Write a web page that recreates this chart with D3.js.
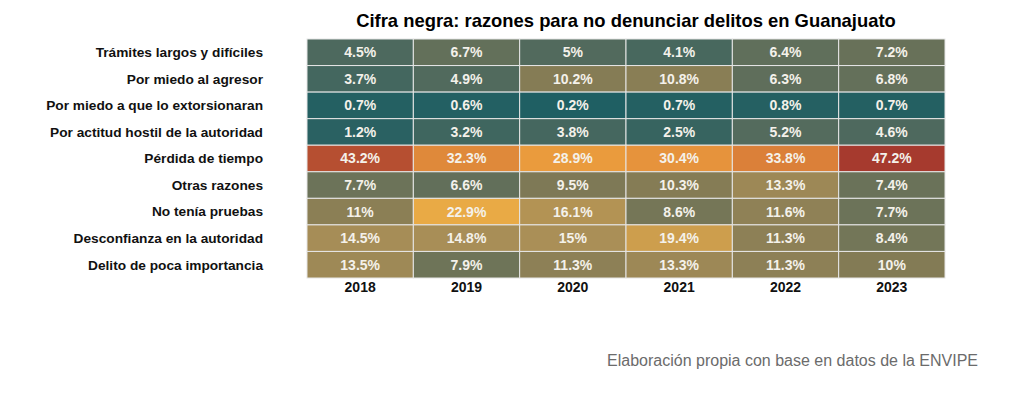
<!DOCTYPE html>
<html>
<head>
<meta charset="utf-8">
<script src="https://cdn.jsdelivr.net/npm/d3@7"></script>
<style>
  body { margin: 0; background: #fff; }
  text { font-family: "Liberation Sans", Arial, sans-serif; }
</style>
</head>
<body>
<div id="chart"></div>
<script>
// Data
const years = ["2018", "2019", "2020", "2021", "2022", "2023"];
const reasons = [
    "Trámites largos y difíciles",
    "Por miedo al agresor",
    "Por miedo a que lo extorsionaran",
    "Por actitud hostil de la autoridad",
    "Pérdida de tiempo",
    "Otras razones",
    "No tenía pruebas",
    "Desconfianza en la autoridad",
    "Delito de poca importancia"
];
const tramites    = [4.5, 6.7, 5, 4.1, 6.4, 7.2];
const miedoAgresor = [3.7, 4.9, 10.2, 10.8, 6.3, 6.8];
const extorsion   = [0.7, 0.6, 0.2, 0.7, 0.8, 0.7];
const hostil      = [1.2, 3.2, 3.8, 2.5, 5.2, 4.6];
const perdida     = [43.2, 32.3, 28.9, 30.4, 33.8, 47.2];
const otras       = [7.7, 6.6, 9.5, 10.3, 13.3, 7.4];
const pruebas     = [11, 22.9, 16.1, 8.6, 11.6, 7.7];
const desconfianza = [14.5, 14.8, 15, 19.4, 11.3, 8.4];
const pocaImport  = [13.5, 7.9, 11.3, 13.3, 11.3, 10];

const series = [tramites, miedoAgresor, extorsion, hostil, perdida, otras, pruebas, desconfianza, pocaImport];

// Flatten into cells
const cells = [];
series.forEach((vals, i) => {
    vals.forEach((v, j) => cells.push({ reason: reasons[i], year: years[j], value: v }));
});

const width = 1024;
const height = 394;
const margin = { top: 39, left: 307, right: 79, bottom: 116 };

const svg = d3.select("#chart")
    .append("svg")
    .attr("width", width)
    .attr("height", height);

const x = d3.scaleBand()
    .domain(years)
    .range([margin.left, width - margin.right]);

const y = d3.scaleBand()
    .domain(reasons)
    .range([margin.top, height - margin.bottom]);

// Colour scale: teal -> olive -> tan -> orange -> red
const color = d3.scaleLinear()
    .domain([0.2, 5, 10, 15, 22.9, 29, 34, 47.2])
    .range(["#1f5f63", "#526a5d", "#837b55", "#aa8f57", "#e9aa45", "#ea9b3d", "#da7f39", "#a63a2e"])
    .interpolate(d3.interpolateRgb)
    .clamp(true);

// Cells
svg.append("g")
    .selectAll("rect")
    .data(cells)
    .join("rect")
    .attr("x", d => x(d.year))
    .attr("y", d => y(d.reason))
    .attr("width", x.bandwidth())
    .attr("height", y.bandwidth())
    .attr("fill", d => color(d.value))
    .attr("stroke", "#e6e6e6")
    .attr("stroke-width", 1);

// Cell labels
svg.append("g")
    .selectAll("text")
    .data(cells)
    .join("text")
    .attr("x", d => x(d.year) + x.bandwidth() / 2)
    .attr("y", d => y(d.reason) + y.bandwidth() / 2)
    .attr("dy", "0.35em")
    .attr("text-anchor", "middle")
    .style("font-size", "14px")
    .style("font-weight", "bold")
    .style("fill", "#f4f1ea")
    .text(d => d.value + "%");

// Row labels
svg.append("g")
    .selectAll("text")
    .data(reasons)
    .join("text")
    .attr("x", 263)
    .attr("y", d => y(d) + y.bandwidth() / 2)
    .attr("dy", "0.35em")
    .attr("text-anchor", "end")
    .style("font-size", "13.7px")
    .style("font-weight", "bold")
    .style("fill", "#111")
    .text(d => d);

// Year labels
svg.append("g")
    .selectAll("text")
    .data(years)
    .join("text")
    .attr("x", d => x(d) + x.bandwidth() / 2)
    .attr("y", height - margin.bottom + 14)
    .attr("text-anchor", "middle")
    .style("font-size", "14px")
    .style("font-weight", "bold")
    .style("fill", "#111")
    .text(d => d);

// Title
svg.append("text")
    .attr("x", (margin.left + width - margin.right) / 2)
    .attr("y", 27)
    .attr("text-anchor", "middle")
    .style("font-size", "18.4px")
    .style("font-weight", "bold")
    .style("fill", "#000")
    .text("Cifra negra: razones para no denunciar delitos en Guanajuato");

// Caption
svg.append("text")
    .attr("x", 978)
    .attr("y", 366)
    .attr("text-anchor", "end")
    .style("font-size", "16px")
    .style("fill", "#6b6b6b")
    .text("Elaboración propia con base en datos de la ENVIPE");
</script>
</body>
</html>
